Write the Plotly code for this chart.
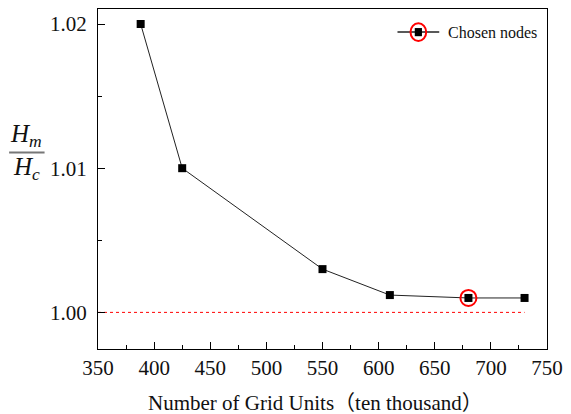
import plotly.graph_objects as go

# Data
grid_units = [388, 425, 550, 610, 680, 730]
ratio = [1.020, 1.010, 1.003, 1.0012, 1.0010, 1.0010]
chosen_x = [680]
chosen_y = [1.0010]
ref_x = [350, 730]
ref_y = [1.000, 1.000]
x_ticks = [350, 400, 450, 500, 550, 600, 650, 700, 750]
y_ticks = [1.00, 1.01, 1.02]

FONT = "Liberation Serif"

fig = go.Figure()
fig.add_trace(go.Scatter(x=ref_x, y=ref_y, mode="lines",
                         line=dict(color="red", width=1, dash="dot"),
                         showlegend=False, hoverinfo="skip"))
fig.add_trace(go.Scatter(x=grid_units, y=ratio, mode="lines+markers",
                         line=dict(color="#222222", width=1),
                         marker=dict(symbol="square", size=8, color="black"),
                         showlegend=False))
fig.add_trace(go.Scatter(x=chosen_x, y=chosen_y, mode="markers",
                         marker=dict(symbol="circle-open", size=16,
                                     color="red", line=dict(width=2, color="red")),
                         showlegend=False))

fig.update_xaxes(range=[350, 750], tickvals=x_ticks, ticks="inside", ticklen=7,
                 tickwidth=1, tickcolor="black",
                 minor=dict(ticks="inside", ticklen=4, dtick=25, tickcolor="black"),
                 showline=True, linecolor="black", linewidth=1, mirror=True,
                 showgrid=False, zeroline=False,
                 tickfont=dict(family=FONT, size=21, color="#111"))
fig.update_yaxes(range=[0.99746, 1.02104], tickvals=y_ticks, tickformat=".2f",
                 ticks="inside", ticklen=7, tickwidth=1, tickcolor="black",
                 minor=dict(ticks="inside", ticklen=4, dtick=0.005, tickcolor="black"),
                 showline=True, linecolor="black", linewidth=1, mirror=True,
                 showgrid=False, zeroline=False, ticklabelstandoff=6,
                 tickfont=dict(family=FONT, size=21, color="#111"))

annotations = [
    dict(text="Number of Grid Units（ten thousand）", xref="paper", yref="paper",
         x=0.485, y=-0.158, yanchor="middle", xanchor="center", showarrow=False,
         font=dict(family="Liberation Serif, Noto Sans CJK SC", size=21, color="#111")),
    dict(text="<i>H</i><sub><i>m</i></sub>", xref="paper", yref="paper",
         x=-0.16, y=0.627, xanchor="center", yanchor="middle", showarrow=False,
         font=dict(family=FONT, size=25, color="#111")),
    dict(text="<i>H</i><sub><i>c</i></sub>", xref="paper", yref="paper",
         x=-0.16, y=0.53, xanchor="center", yanchor="middle", showarrow=False,
         font=dict(family=FONT, size=25, color="#111")),
    dict(text="Chosen nodes", xref="paper", yref="paper",
         x=0.776, y=0.93, xanchor="left", yanchor="middle", showarrow=False,
         font=dict(family=FONT, size=16, color="#111")),
]

shapes = [
    # fraction bar
    dict(type="line", xref="paper", yref="paper", x0=-0.198, x1=-0.119,
         y0=0.578, y1=0.578, line=dict(color="#777", width=2)),
    # legend line
    dict(type="line", xref="paper", yref="paper", x0=0.667, x1=0.760,
         y0=0.932, y1=0.932, line=dict(color="#222", width=1.5)),
    # legend square
    dict(type="rect", xref="paper", yref="paper", x0=0.7055, x1=0.7215,
         y0=0.920, y1=0.944, fillcolor="black", line=dict(width=0)),
    # legend red circle
    dict(type="circle", xref="paper", yref="paper", x0=0.696, x1=0.731,
         y0=0.906, y1=0.958, line=dict(color="red", width=2)),
]

fig.update_layout(width=571, height=414,
                  margin=dict(l=98, r=17, t=8, b=65),
                  plot_bgcolor="white", paper_bgcolor="white",
                  annotations=annotations, shapes=shapes,
                  font=dict(family=FONT))

fig.write_html("out.html")
